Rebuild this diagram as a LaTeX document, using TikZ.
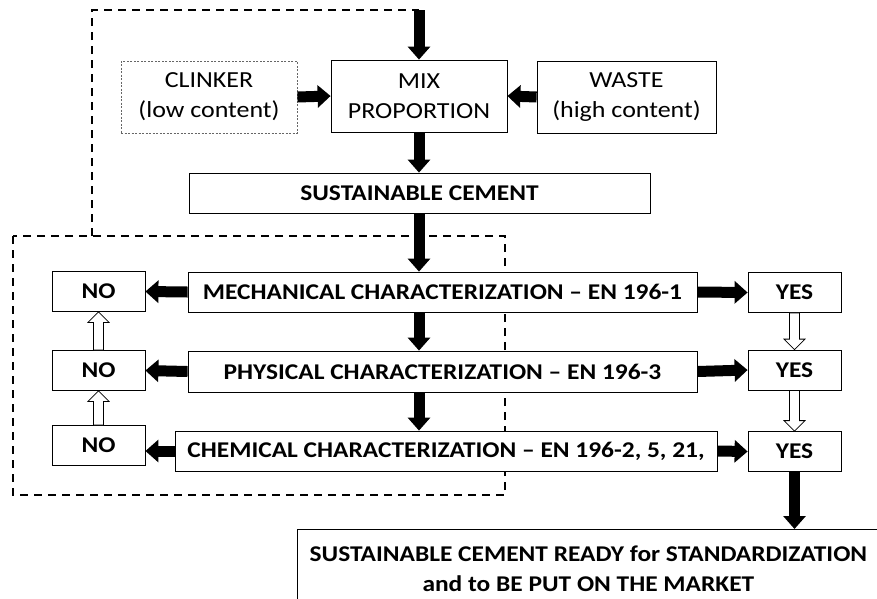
\documentclass[tikz,border=0pt]{standalone}
\usepackage{fontspec}
\setmainfont{Carlito}[FakeStretch=1.13]
\usetikzlibrary{arrows.meta,calc}
\tikzset{
    box/.style={draw, fill=white, line width=0.8pt, inner sep=0pt, align=center,
        font=\fontsize{22.5}{30}\selectfont\bfseries},
    softbox/.style={box, minimum width=176pt, minimum height=72pt,
        font=\fontsize{23}{30}\selectfont},
    testbox/.style={box, minimum height=40pt},
    answer/.style={box, minimum width=93pt, minimum height=40pt},
    thick arrow/.style={line width=11pt, -{Triangle[width=22pt,length=13pt]}},
    backline/.style={line width=2.6pt, dash pattern=on 8pt off 6pt},
    hollow/.style={draw, fill=white, line width=0.8pt, line join=miter}
}
% vertical open arrow from #1 to #2
\newcommand{\hollowarrow}[2]{
	\draw[hollow] let \p1=(#1), \p2=(#2), \p3=($(#2)!10.5pt!(#1)$) in
		(\x1-5pt,\y1) -- (\x1-5pt,\y3) -- (\x1-10.5pt,\y3) -- (\p2)
		-- (\x1+10.5pt,\y3) -- (\x1+5pt,\y3) -- (\x1+5pt,\y1) -- cycle;
}

\begin{document}
\begin{tikzpicture}[x=1pt, y=-1pt]
		\useasboundingbox (0,0) rectangle (877,598);
		\clip (0,0) rectangle (877,598);

		% Loops back to the mix
		\draw[backline] (13,236) rectangle (505,495);
		\coordinate (top) at (419,10);
		\draw[backline] (92,236) -- (92,10) -- (top);

		% Mix design
		\node[softbox] (mix) at (419,96) {MIX\\PROPORTION};
		\node[softbox, draw=gray!80!black, dash pattern=on 2pt off 1.5pt] (clinker) at (209,97) {CLINKER\\(low content)};
		\node[softbox, minimum width=179pt] (waste) at (626.5,97) {WASTE\\(high content)};
		\node[testbox, minimum width=461pt] (cement) at (419.5,193) {SUSTAINABLE CEMENT};

		% Tests
		\node[testbox, minimum width=509pt] (mech) at (442.5,292) {MECHANICAL CHARACTERIZATION -- EN 196-1};
		\node[testbox, minimum width=509pt, minimum height=41pt] (phys) at (442.5,371.5) {PHYSICAL CHARACTERIZATION -- EN 196-3};
		\node[testbox, minimum width=542pt] (chem) at (446,451) {CHEMICAL CHARACTERIZATION -- EN 196-2, 5, 21,};

		\node[answer] (no1) at (98.5,291.5) {NO};
		\node[answer] (no2) at (98.5,370.5) {NO};
		\node[answer] (no3) at (98.5,445.5) {NO};
		\node[answer] (yes1) at (794.5,292.5) {YES};
		\node[answer] (yes2) at (794.5,370) {YES};
		\node[answer] (yes3) at (794.5,451.5) {YES};

		\node[box, minimum width=582pt, minimum height=78pt, anchor=north west] (final) at (297,529)
			{SUSTAINABLE CEMENT READY for STANDARDIZATION\\and to BE PUT ON THE MARKET};

		% Arrows
		\draw[thick arrow] (top) -- (mix.north);
		\draw[thick arrow] (clinker.east) -- (mix.west);
		\draw[thick arrow] (waste.west) -- (mix.east);
		\draw[thick arrow] (mix.south) -- (mix.south |- cement.north);
		\draw[thick arrow] (cement.south -| mix.south) -- (mix.south |- mech.north);
		\draw[thick arrow] (mech.south -| mix.south) -- (mix.south |- phys.north);
		\draw[thick arrow] (phys.south -| mix.south) -- (mix.south |- chem.north);

		\draw[thick arrow] (mech.west) -- (no1.east);
		\draw[thick arrow] (phys.west) -- (no2.east);
		\draw[thick arrow] (chem.west) -- (chem.west -| no3.east);
		\draw[thick arrow] (mech.east) -- (yes1.west);
		\draw[thick arrow] (phys.east) -- (yes2.west);
		\draw[thick arrow] (chem.east) -- (yes3.west);
		\draw[thick arrow] (yes3.south) -- (yes3.south |- final.north);

		\hollowarrow{no2.north}{no1.south}
		\hollowarrow{no3.north}{no2.south}
		\hollowarrow{yes1.south}{yes2.north}
		\hollowarrow{yes2.south}{yes3.north}
	\end{tikzpicture}
\end{document}
